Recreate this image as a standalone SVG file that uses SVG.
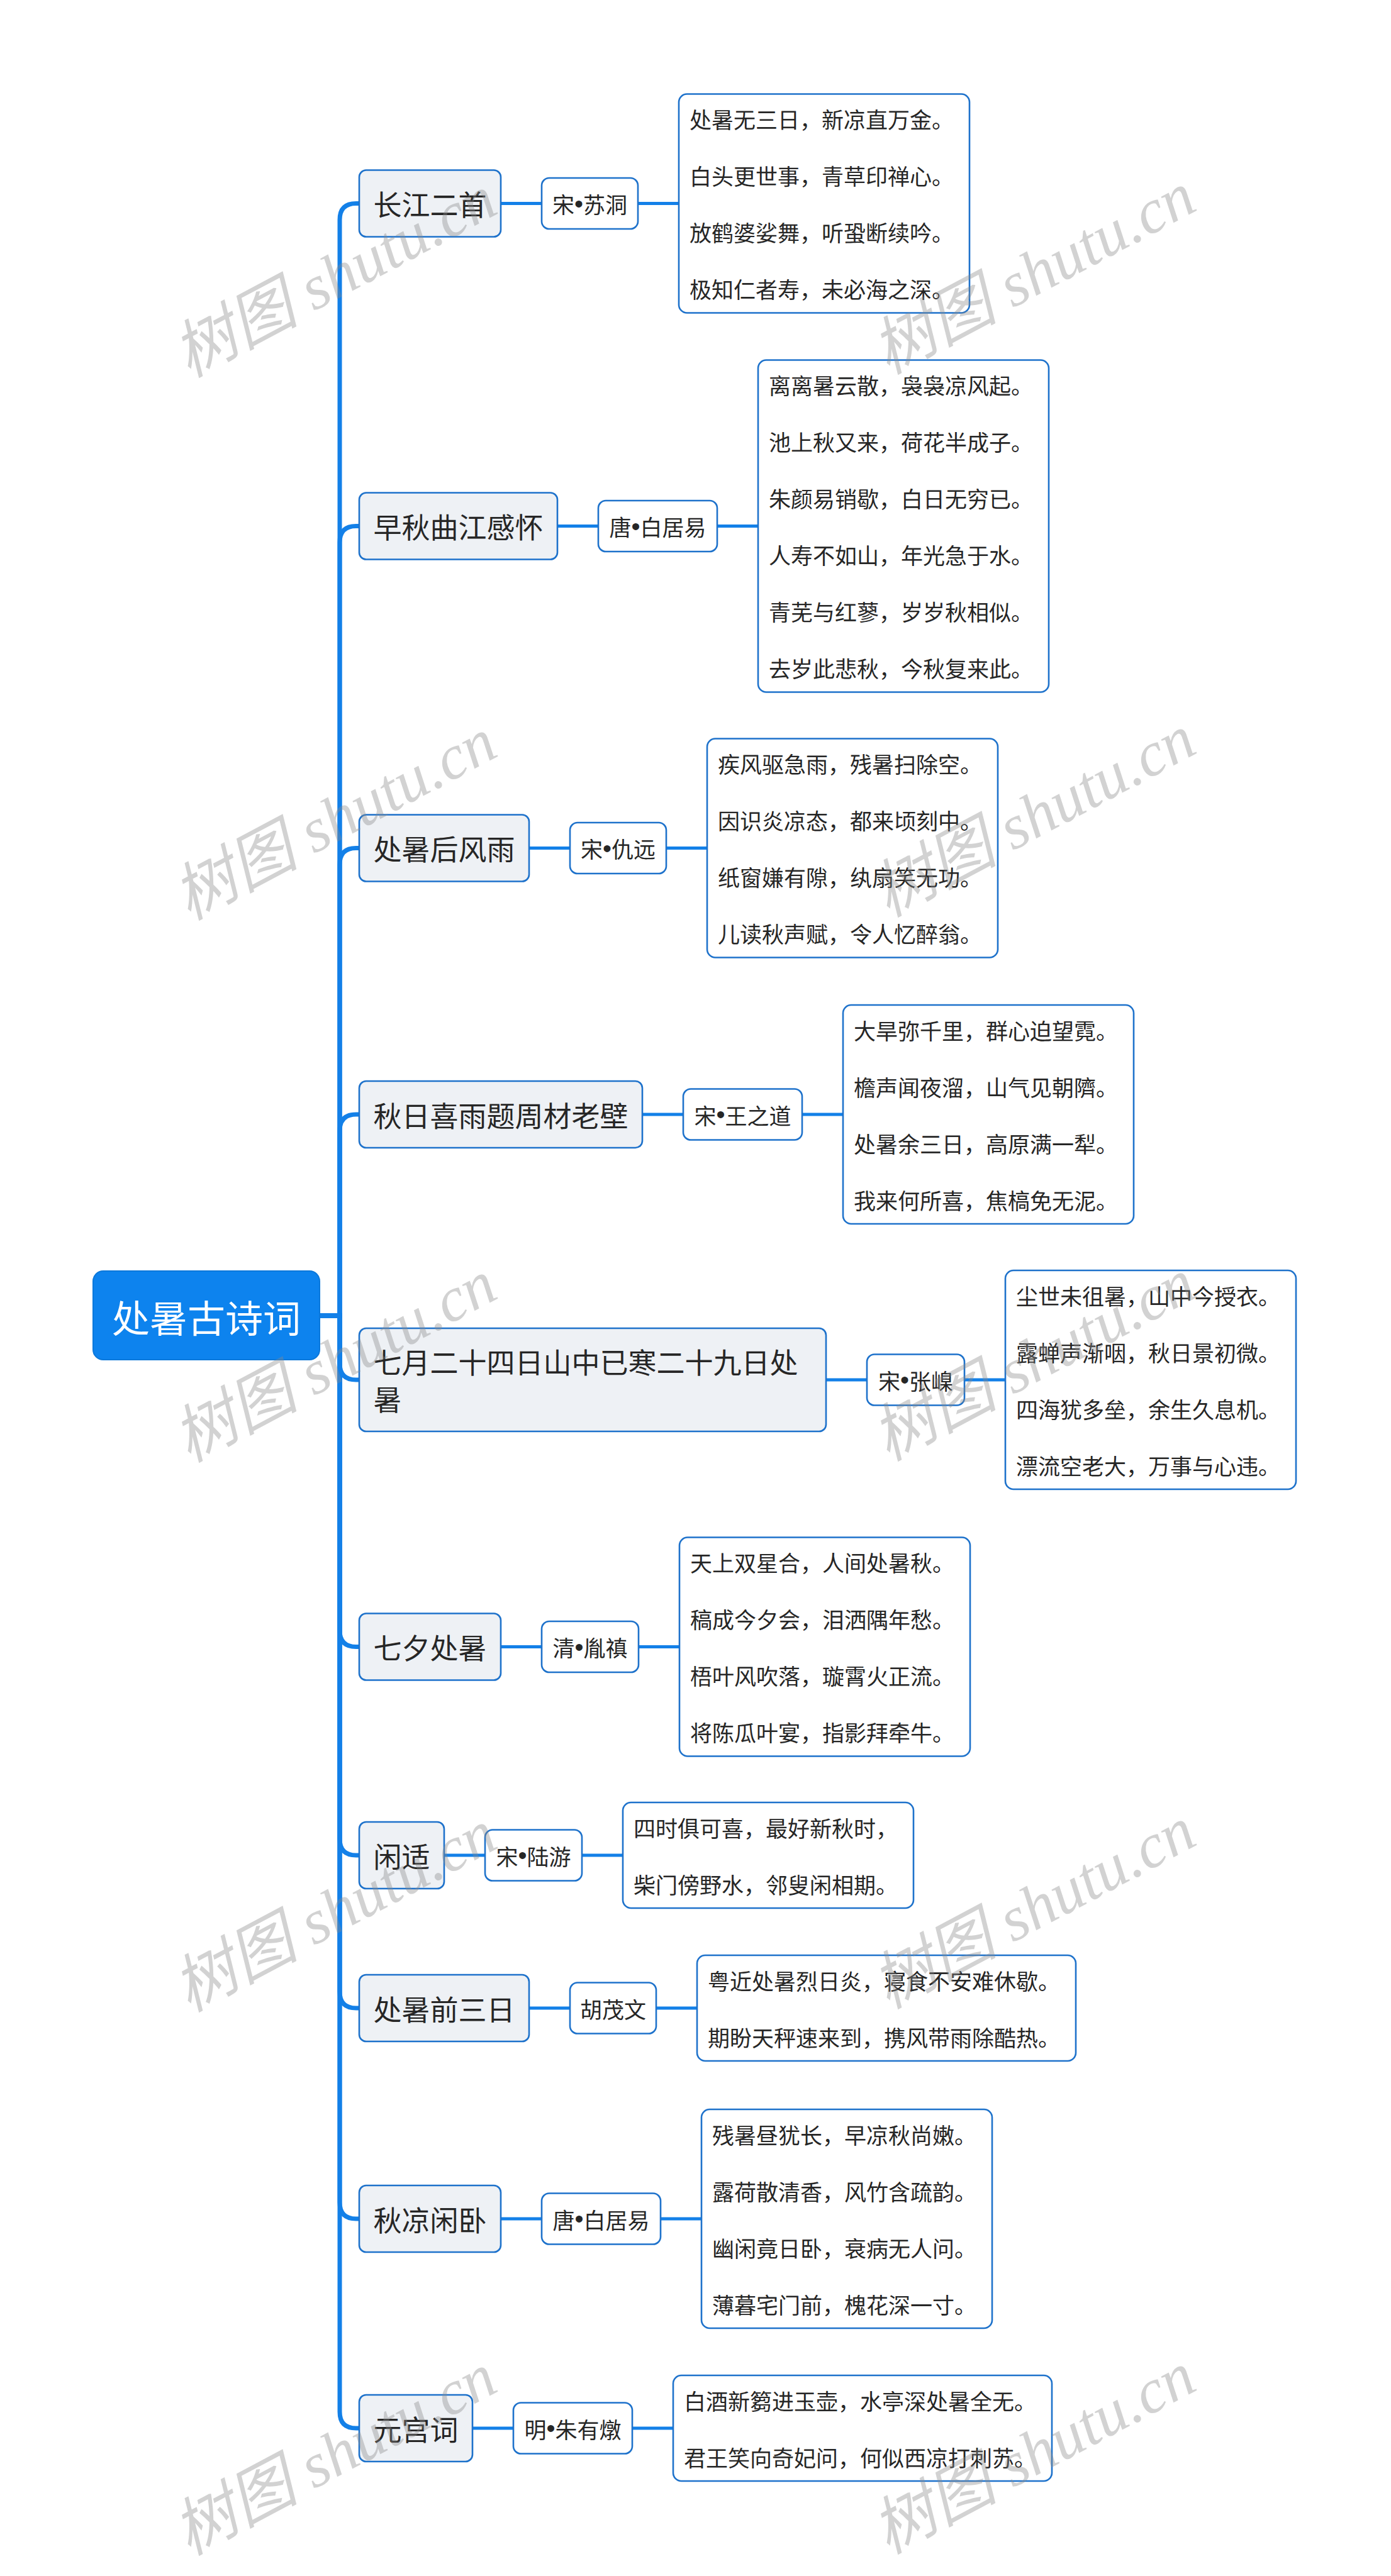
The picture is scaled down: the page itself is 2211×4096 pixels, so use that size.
<svg xmlns="http://www.w3.org/2000/svg" width="2211" height="4096" viewBox="0 0 2211 4096">
<style>
.cn{font-family:"Noto Sans CJK SC","Noto Sans",sans-serif;}
.root{fill:#0d83ee;stroke:#0b78db;stroke-width:2;}
.rt{fill:#ffffff;font-size:60px;}
.l1{fill:#eef1f5;stroke:#1e72cb;stroke-width:2.6;}
.l1t{fill:#262626;font-size:45px;}
.au{fill:#ffffff;stroke:#1e72cb;stroke-width:2.6;}
.aut{fill:#262626;font-size:35px;}
.b{font-family:"Liberation Sans",sans-serif;font-size:40px;}
.po{fill:#ffffff;stroke:#1e72cb;stroke-width:2.6;}
.pot{fill:#262626;font-size:35px;}
.trunk{fill:none;stroke:#1380e8;stroke-width:7;}
.thin{fill:none;stroke:#1380e8;stroke-width:5;}
.wm{fill:#8a8a8a;opacity:0.38;font-family:"Liberation Serif","Noto Sans CJK SC",serif;font-style:italic;font-size:100px;}
</style>
<rect width="2211" height="4096" fill="#ffffff"/>
<g id="connectors">
<path class="trunk" d="M508 2092 H540 V349.5 Q540 323.5 566 323.5 H571"/>
<path class="trunk" d="M508 2092 H540 V862.5 Q540 836.5 566 836.5 H571"/>
<path class="trunk" d="M508 2092 H540 V1374.5 Q540 1348.5 566 1348.5 H571"/>
<path class="trunk" d="M508 2092 H540 V1798 Q540 1772 566 1772 H571"/>
<path class="trunk" d="M508 2092 H540 V2168 Q540 2194 566 2194 H571"/>
<path class="trunk" d="M508 2092 H540 V2592.5 Q540 2618.5 566 2618.5 H571"/>
<path class="trunk" d="M508 2092 H540 V2924 Q540 2950 566 2950 H571"/>
<path class="trunk" d="M508 2092 H540 V3167 Q540 3193 566 3193 H571"/>
<path class="trunk" d="M508 2092 H540 V3502 Q540 3528 566 3528 H571"/>
<path class="trunk" d="M508 2092 H540 V3835 Q540 3861 566 3861 H571"/>
<path class="thin" d="M796 323.5 H861 M1014 323.5 H1079"/>
<path class="thin" d="M886 836.5 H951 M1140 836.5 H1205"/>
<path class="thin" d="M841 1348.5 H906 M1059 1348.5 H1124"/>
<path class="thin" d="M1021 1772 H1086 M1275 1772 H1340"/>
<path class="thin" d="M1313 2194 H1378 M1533 2194 H1598"/>
<path class="thin" d="M796 2618.5 H861 M1015 2618.5 H1080"/>
<path class="thin" d="M706 2950 H771 M925 2950 H990"/>
<path class="thin" d="M841 3193 H906 M1043 3193 H1108"/>
<path class="thin" d="M796 3528 H861 M1050 3528 H1115"/>
<path class="thin" d="M751 3861 H816 M1005 3861 H1070"/>
</g>
<g id="root" class="cn">
<rect class="root" x="148" y="2021" width="360" height="141" rx="16"/>
<text class="rt" x="328" y="2092" text-anchor="middle" dominant-baseline="central">处暑古诗词</text>
</g>
<g id="n1" class="cn">
<rect class="l1" x="571" y="270.5" width="225" height="106" rx="11"/>
<text class="l1t" x="593.5" y="323.5" dominant-baseline="central">长江二首</text>
<rect class="au" x="861" y="283" width="153" height="81" rx="12"/>
<text class="aut" x="937.5" y="323.5" text-anchor="middle" dominant-baseline="central">宋<tspan class="b">•</tspan>苏洞</text>
<rect class="po" x="1079" y="149.5" width="462" height="348" rx="13"/>
<text class="pot" x="1096" y="188.5" dominant-baseline="central">处暑无三日，新凉直万金。</text>
<text class="pot" x="1096" y="278.5" dominant-baseline="central">白头更世事，青草印禅心。</text>
<text class="pot" x="1096" y="368.5" dominant-baseline="central">放鹤婆娑舞，听蛩断续吟。</text>
<text class="pot" x="1096" y="458.5" dominant-baseline="central">极知仁者寿，未必海之深。</text>
</g>
<g id="n2" class="cn">
<rect class="l1" x="571" y="783.5" width="315" height="106" rx="11"/>
<text class="l1t" x="593.5" y="836.5" dominant-baseline="central">早秋曲江感怀</text>
<rect class="au" x="951" y="796" width="189" height="81" rx="12"/>
<text class="aut" x="1045.5" y="836.5" text-anchor="middle" dominant-baseline="central">唐<tspan class="b">•</tspan>白居易</text>
<rect class="po" x="1205" y="572.5" width="462" height="528" rx="13"/>
<text class="pot" x="1222" y="611.5" dominant-baseline="central">离离暑云散，袅袅凉风起。</text>
<text class="pot" x="1222" y="701.5" dominant-baseline="central">池上秋又来，荷花半成子。</text>
<text class="pot" x="1222" y="791.5" dominant-baseline="central">朱颜易销歇，白日无穷已。</text>
<text class="pot" x="1222" y="881.5" dominant-baseline="central">人寿不如山，年光急于水。</text>
<text class="pot" x="1222" y="971.5" dominant-baseline="central">青芜与红蓼，岁岁秋相似。</text>
<text class="pot" x="1222" y="1061.5" dominant-baseline="central">去岁此悲秋，今秋复来此。</text>
</g>
<g id="n3" class="cn">
<rect class="l1" x="571" y="1295.5" width="270" height="106" rx="11"/>
<text class="l1t" x="593.5" y="1348.5" dominant-baseline="central">处暑后风雨</text>
<rect class="au" x="906" y="1308" width="153" height="81" rx="12"/>
<text class="aut" x="982.5" y="1348.5" text-anchor="middle" dominant-baseline="central">宋<tspan class="b">•</tspan>仇远</text>
<rect class="po" x="1124" y="1174.5" width="462" height="348" rx="13"/>
<text class="pot" x="1141" y="1213.5" dominant-baseline="central">疾风驱急雨，残暑扫除空。</text>
<text class="pot" x="1141" y="1303.5" dominant-baseline="central">因识炎凉态，都来顷刻中。</text>
<text class="pot" x="1141" y="1393.5" dominant-baseline="central">纸窗嫌有隙，纨扇笑无功。</text>
<text class="pot" x="1141" y="1483.5" dominant-baseline="central">儿读秋声赋，令人忆醉翁。</text>
</g>
<g id="n4" class="cn">
<rect class="l1" x="571" y="1719" width="450" height="106" rx="11"/>
<text class="l1t" x="593.5" y="1772" dominant-baseline="central">秋日喜雨题周材老壁</text>
<rect class="au" x="1086" y="1731.5" width="189" height="81" rx="12"/>
<text class="aut" x="1180.5" y="1772" text-anchor="middle" dominant-baseline="central">宋<tspan class="b">•</tspan>王之道</text>
<rect class="po" x="1340" y="1598" width="462" height="348" rx="13"/>
<text class="pot" x="1357" y="1637" dominant-baseline="central">大旱弥千里，群心迫望霓。</text>
<text class="pot" x="1357" y="1727" dominant-baseline="central">檐声闻夜溜，山气见朝隮。</text>
<text class="pot" x="1357" y="1817" dominant-baseline="central">处暑余三日，高原满一犁。</text>
<text class="pot" x="1357" y="1907" dominant-baseline="central">我来何所喜，焦槁免无泥。</text>
</g>
<g id="n5" class="cn">
<rect class="l1" x="571" y="2112" width="742" height="164" rx="11"/>
<text class="l1t" x="593.5" y="2164.3" dominant-baseline="central">七月二十四日山中已寒二十九日处</text>
<text class="l1t" x="593.5" y="2223.7" dominant-baseline="central">暑</text>
<rect class="au" x="1378" y="2153.5" width="155" height="81" rx="12"/>
<text class="aut" x="1455.5" y="2194" text-anchor="middle" dominant-baseline="central">宋<tspan class="b">•</tspan>张嵲</text>
<rect class="po" x="1598" y="2020" width="462" height="348" rx="13"/>
<text class="pot" x="1615" y="2059" dominant-baseline="central">尘世未徂暑，山中今授衣。</text>
<text class="pot" x="1615" y="2149" dominant-baseline="central">露蝉声渐咽，秋日景初微。</text>
<text class="pot" x="1615" y="2239" dominant-baseline="central">四海犹多垒，余生久息机。</text>
<text class="pot" x="1615" y="2329" dominant-baseline="central">漂流空老大，万事与心违。</text>
</g>
<g id="n6" class="cn">
<rect class="l1" x="571" y="2565.5" width="225" height="106" rx="11"/>
<text class="l1t" x="593.5" y="2618.5" dominant-baseline="central">七夕处暑</text>
<rect class="au" x="861" y="2578" width="154" height="81" rx="12"/>
<text class="aut" x="938" y="2618.5" text-anchor="middle" dominant-baseline="central">清<tspan class="b">•</tspan>胤禛</text>
<rect class="po" x="1080" y="2444.5" width="462" height="348" rx="13"/>
<text class="pot" x="1097" y="2483.5" dominant-baseline="central">天上双星合，人间处暑秋。</text>
<text class="pot" x="1097" y="2573.5" dominant-baseline="central">稿成今夕会，泪洒隅年愁。</text>
<text class="pot" x="1097" y="2663.5" dominant-baseline="central">梧叶风吹落，璇霄火正流。</text>
<text class="pot" x="1097" y="2753.5" dominant-baseline="central">将陈瓜叶宴，指影拜牵牛。</text>
</g>
<g id="n7" class="cn">
<rect class="l1" x="571" y="2897" width="135" height="106" rx="11"/>
<text class="l1t" x="593.5" y="2950" dominant-baseline="central">闲适</text>
<rect class="au" x="771" y="2909.5" width="154" height="81" rx="12"/>
<text class="aut" x="848" y="2950" text-anchor="middle" dominant-baseline="central">宋<tspan class="b">•</tspan>陆游</text>
<rect class="po" x="990" y="2866" width="462" height="168" rx="13"/>
<text class="pot" x="1007" y="2905" dominant-baseline="central">四时俱可喜，最好新秋时，</text>
<text class="pot" x="1007" y="2995" dominant-baseline="central">柴门傍野水，邻叟闲相期。</text>
</g>
<g id="n8" class="cn">
<rect class="l1" x="571" y="3140" width="270" height="106" rx="11"/>
<text class="l1t" x="593.5" y="3193" dominant-baseline="central">处暑前三日</text>
<rect class="au" x="906" y="3152.5" width="137" height="81" rx="12"/>
<text class="aut" x="974.5" y="3193" text-anchor="middle" dominant-baseline="central">胡茂文</text>
<rect class="po" x="1108" y="3109" width="602" height="168" rx="13"/>
<text class="pot" x="1125" y="3148" dominant-baseline="central">粤近处暑烈日炎，寝食不安难休歇。</text>
<text class="pot" x="1125" y="3238" dominant-baseline="central">期盼天秤速来到，携风带雨除酷热。</text>
</g>
<g id="n9" class="cn">
<rect class="l1" x="571" y="3475" width="225" height="106" rx="11"/>
<text class="l1t" x="593.5" y="3528" dominant-baseline="central">秋凉闲卧</text>
<rect class="au" x="861" y="3487.5" width="189" height="81" rx="12"/>
<text class="aut" x="955.5" y="3528" text-anchor="middle" dominant-baseline="central">唐<tspan class="b">•</tspan>白居易</text>
<rect class="po" x="1115" y="3354" width="462" height="348" rx="13"/>
<text class="pot" x="1132" y="3393" dominant-baseline="central">残暑昼犹长，早凉秋尚嫩。</text>
<text class="pot" x="1132" y="3483" dominant-baseline="central">露荷散清香，风竹含疏韵。</text>
<text class="pot" x="1132" y="3573" dominant-baseline="central">幽闲竟日卧，衰病无人问。</text>
<text class="pot" x="1132" y="3663" dominant-baseline="central">薄暮宅门前，槐花深一寸。</text>
</g>
<g id="n10" class="cn">
<rect class="l1" x="571" y="3808" width="180" height="106" rx="11"/>
<text class="l1t" x="593.5" y="3861" dominant-baseline="central">元宫词</text>
<rect class="au" x="816" y="3820.5" width="189" height="81" rx="12"/>
<text class="aut" x="910.5" y="3861" text-anchor="middle" dominant-baseline="central">明<tspan class="b">•</tspan>朱有燉</text>
<rect class="po" x="1070" y="3777" width="602" height="168" rx="13"/>
<text class="pot" x="1087" y="3816" dominant-baseline="central">白酒新篘进玉壶，水亭深处暑全无。</text>
<text class="pot" x="1087" y="3906" dominant-baseline="central">君王笑向奇妃问，何似西凉打刺苏。</text>
</g>
<g id="watermarks">
<text class="wm" transform="translate(300,601) rotate(-28)">树图 shutu.cn</text>
<text class="wm" transform="translate(1411,596) rotate(-28)">树图 shutu.cn</text>
<text class="wm" transform="translate(300,1464) rotate(-28)">树图 shutu.cn</text>
<text class="wm" transform="translate(1411,1459) rotate(-28)">树图 shutu.cn</text>
<text class="wm" transform="translate(300,2326) rotate(-28)">树图 shutu.cn</text>
<text class="wm" transform="translate(1411,2324) rotate(-28)">树图 shutu.cn</text>
<text class="wm" transform="translate(300,3200) rotate(-28)">树图 shutu.cn</text>
<text class="wm" transform="translate(1411,3195) rotate(-28)">树图 shutu.cn</text>
<text class="wm" transform="translate(300,4064) rotate(-28)">树图 shutu.cn</text>
<text class="wm" transform="translate(1411,4062) rotate(-28)">树图 shutu.cn</text>
</g>
</svg>
